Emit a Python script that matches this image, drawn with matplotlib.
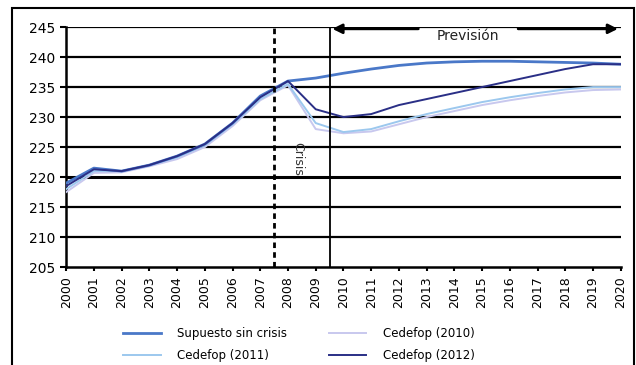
import matplotlib.pyplot as plt
import matplotlib.patches as mpatches

years = list(range(2000, 2021))
sin_crisis = [219, 221.5, 221, 222, 223.5, 225.5, 229, 233.5, 236, 236.5, 237.3,
              238, 238.6, 239, 239.2, 239.3, 239.3, 239.2, 239.1, 239, 238.8]
cedefop_2012 = [218.5, 221.3, 221, 222, 223.5, 225.5, 229, 233.3, 236, 231.3, 230,
                230.5, 232, 233, 234, 235, 236, 237, 238, 238.8, 238.8]
cedefop_2011 = [218, 221, 221, 222, 223.3, 225.3, 228.8, 233, 235.5, 229, 227.5,
                228, 229.3, 230.5, 231.5, 232.5, 233.3, 234, 234.6, 235, 235]
cedefop_2010 = [217.5, 220.7, 220.8, 221.8, 223, 225, 228.5, 232.8, 235.3, 228, 227.3,
                227.6, 228.8, 230, 231, 232, 232.8, 233.5, 234.1, 234.5, 234.6]

fig = plt.figure(figsize=(6.36, 3.65), dpi=100)
ax = fig.add_axes([0.104, 0.268, 0.872, 0.658])

for y in range(210, 246, 5):
    lw = 2.2 if y == 220 else 1.6
    ax.axhline(y, color='black', lw=lw, zorder=1)

ax.plot(years, cedefop_2010, color='#c8c8ee', lw=1.4, zorder=3, label='Cedefop (2010)')
ax.plot(years, cedefop_2011, color='#9cc8ee', lw=1.4, zorder=3, label='Cedefop (2011)')
ax.plot(years, sin_crisis, color='#4a78c8', lw=2.0, zorder=4, label='Supuesto sin crisis')
ax.plot(years, cedefop_2012, color='#2a2f86', lw=1.4, zorder=4, label='Cedefop (2012)')

ax.axvline(2007.5, color='black', lw=2, ls=(0, (2, 1.5)), zorder=5)
ax.axvline(2009.5, ymin=0, ymax=1.0, color='black', lw=1.3, zorder=5)
ax.text(2008.35, 223, 'Crisis', rotation=-90, ha='center', va='center', fontsize=9, color='#333333')

ax.annotate('', xy=(2009.5, 244.7), xytext=(2012.8, 244.7),
            arrowprops=dict(arrowstyle='-|>', color='black', lw=2, mutation_scale=14))
ax.annotate('', xy=(2020, 244.7), xytext=(2016.2, 244.7),
            arrowprops=dict(arrowstyle='-|>', color='black', lw=2, mutation_scale=14))
ax.text(2014.5, 243.5, 'Previsión', ha='center', va='center', fontsize=10, color='#222222')

ax.set_xlim(2000, 2020)
ax.set_ylim(205, 245)
ax.set_xticks(years)
ax.set_xticklabels([str(y) for y in years], rotation=90, fontsize=9)
ax.set_yticks(range(205, 246, 5))
ax.tick_params(axis='y', labelsize=10, length=4, width=1.5)
ax.tick_params(axis='x', length=3, width=1.5)
for s in ['top', 'right']:
    ax.spines[s].set_visible(False)
for s in ['left', 'bottom']:
    ax.spines[s].set_linewidth(1.8)

h, l = ax.get_legend_handles_labels()
order = [2, 1, 0, 3]
fig.legend([h[i] for i in order], [l[i] for i in order], ncol=2, frameon=False,
           loc='lower center', bbox_to_anchor=(0.47, -0.02), fontsize=8.5,
           handlelength=3.2, handletextpad=1.4, columnspacing=3.5, labelspacing=0.7)

fig.patches.append(mpatches.Rectangle((0.019, -0.02), 0.978, 0.998, transform=fig.transFigure,
                                      fill=False, edgecolor='black', lw=1.5))

fig.savefig('out.png', dpi=100)
